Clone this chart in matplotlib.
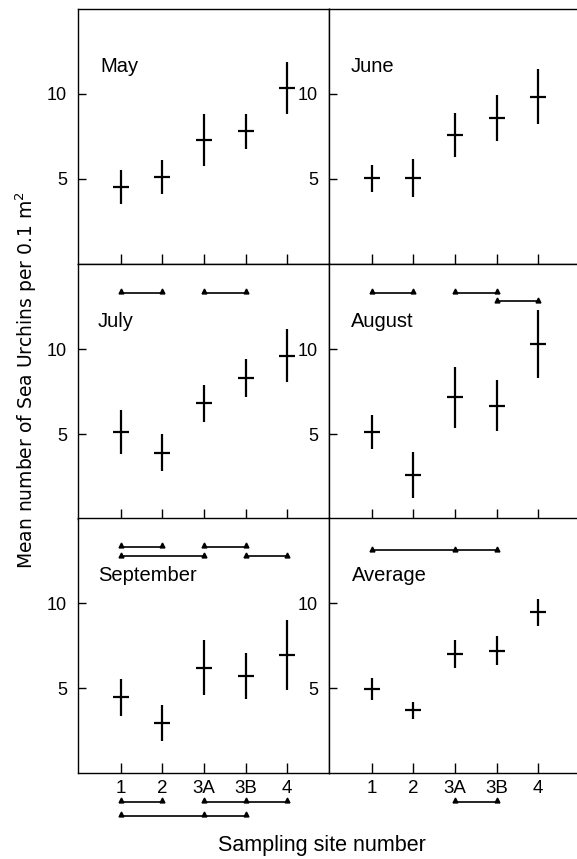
import matplotlib
matplotlib.use("Agg")
import matplotlib.pyplot as plt

plt.rcParams['font.family'] = ['Liberation Sans', 'DejaVu Sans']

# sampling sites (x order)
SITES = ["1", "2", "3A", "3B", "4"]
XPOS = [1, 2, 3, 4, 5]

PANEL_NAMES = ["May", "June", "July", "August", "September", "Average"]

# mean number of sea urchins per 0.1 m2 and half-length of the vertical bar
MAY_MEAN = [4.5, 5.1, 7.3, 7.8, 10.35]
MAY_ERR = [1.0, 1.0, 1.55, 1.05, 1.55]
JUNE_MEAN = [5.05, 5.05, 7.6, 8.6, 9.85]
JUNE_ERR = [0.8, 1.1, 1.3, 1.35, 1.6]
JULY_MEAN = [5.1, 3.9, 6.8, 8.3, 9.6]
JULY_ERR = [1.3, 1.1, 1.1, 1.1, 1.55]
AUG_MEAN = [5.1, 2.6, 7.15, 6.65, 10.3]
AUG_ERR = [1.0, 1.35, 1.8, 1.5, 2.0]
SEP_MEAN = [4.45, 2.95, 6.2, 5.7, 6.95]
SEP_ERR = [1.1, 1.05, 1.6, 1.35, 2.05]
AVG_MEAN = [4.95, 3.7, 7.0, 7.2, 9.45]
AVG_ERR = [0.65, 0.5, 0.8, 0.85, 0.8]

MEANS = [MAY_MEAN, JUNE_MEAN, JULY_MEAN, AUG_MEAN, SEP_MEAN, AVG_MEAN]
ERRS = [MAY_ERR, JUNE_ERR, JULY_ERR, AUG_ERR, SEP_ERR, AVG_ERR]

# brackets linking sites that do not differ: (sites on the bracket, level)
JULY_BRACKETS = [([1, 2], 13.3), ([3, 4], 13.3)]
AUG_BRACKETS = [([1, 2], 13.3), ([3, 4], 13.3), ([4, 5], 12.8)]
SEP_BRACKETS = [([1, 2], 13.3), ([3, 4], 13.3), ([1, 3], 12.75), ([4, 5], 12.75)]
AVG_BRACKETS = [([1, 3, 4], 13.1)]
SEP_BELOW = [([1, 2], -1.7), ([3, 4, 5], -1.7), ([1, 3, 4], -2.5)]
AVG_BELOW = [([3, 4], -1.7)]
BRACKETS = [[], [], JULY_BRACKETS, AUG_BRACKETS, SEP_BRACKETS + SEP_BELOW, AVG_BRACKETS + AVG_BELOW]

LABEL_X = [0.09, 0.087, 0.078, 0.086, 0.081, 0.09]


def draw_bracket(ax, xs, level):
    ax.plot([min(xs), max(xs)], [level, level], color='k', lw=1.2, clip_on=False)
    ax.plot(xs, [level + 0.1] * len(xs), ls='none', marker='^', ms=3.5, color='k', clip_on=False)


fig = plt.figure(figsize=(5.77, 8.59), dpi=100)

W = 251 / 577
H = 255 / 859
lefts = [78 / 577, 329 / 577]
bottoms = [0.6927, 0.3958, 0.1001]

for i in range(6):
    row, col = i // 2, i % 2
    ax = fig.add_axes([lefts[col], bottoms[row], W, H])
    ax.set_xlim(-0.02, 6.0)
    ax.set_ylim(0, 15)
    ax.errorbar(XPOS, MEANS[i], yerr=ERRS[i], fmt='none', ecolor='k', elinewidth=1.6, capsize=0)
    ax.plot(XPOS, MEANS[i], ls='none', marker='_', ms=12, mew=1.6, color='k')
    for xs, lvl in BRACKETS[i]:
        draw_bracket(ax, xs, lvl)
    ax.text(LABEL_X[i], 0.753, PANEL_NAMES[i], transform=ax.transAxes, fontsize=14.5, va='baseline')

    ax.set_xticks(XPOS)
    if row == 2:
        ax.set_xticklabels(SITES, fontsize=13.5)
    else:
        ax.set_xticklabels([])
    ax.set_yticks([5, 10])
    ax.set_yticklabels(["5", "10"], fontsize=13)
    ax.tick_params(axis='x', direction='in', length=7, width=1.0, pad=5)
    ax.tick_params(axis='y', direction='in', length=6, width=1.0, pad=8)
    for s in ax.spines.values():
        s.set_linewidth(1.0)
    if col == 1:
        ax.spines['right'].set_visible(False)

fig.text(0.045, 0.558, "Mean number of Sea Urchins per 0.1 m$^2$", rotation=90,
         ha='center', va='center', fontsize=13.5, family='DejaVu Sans')
fig.text(0.558, 0.016, "Sampling site number", ha='center', va='center', fontsize=15.5)

fig.savefig("out.png", dpi=100)
